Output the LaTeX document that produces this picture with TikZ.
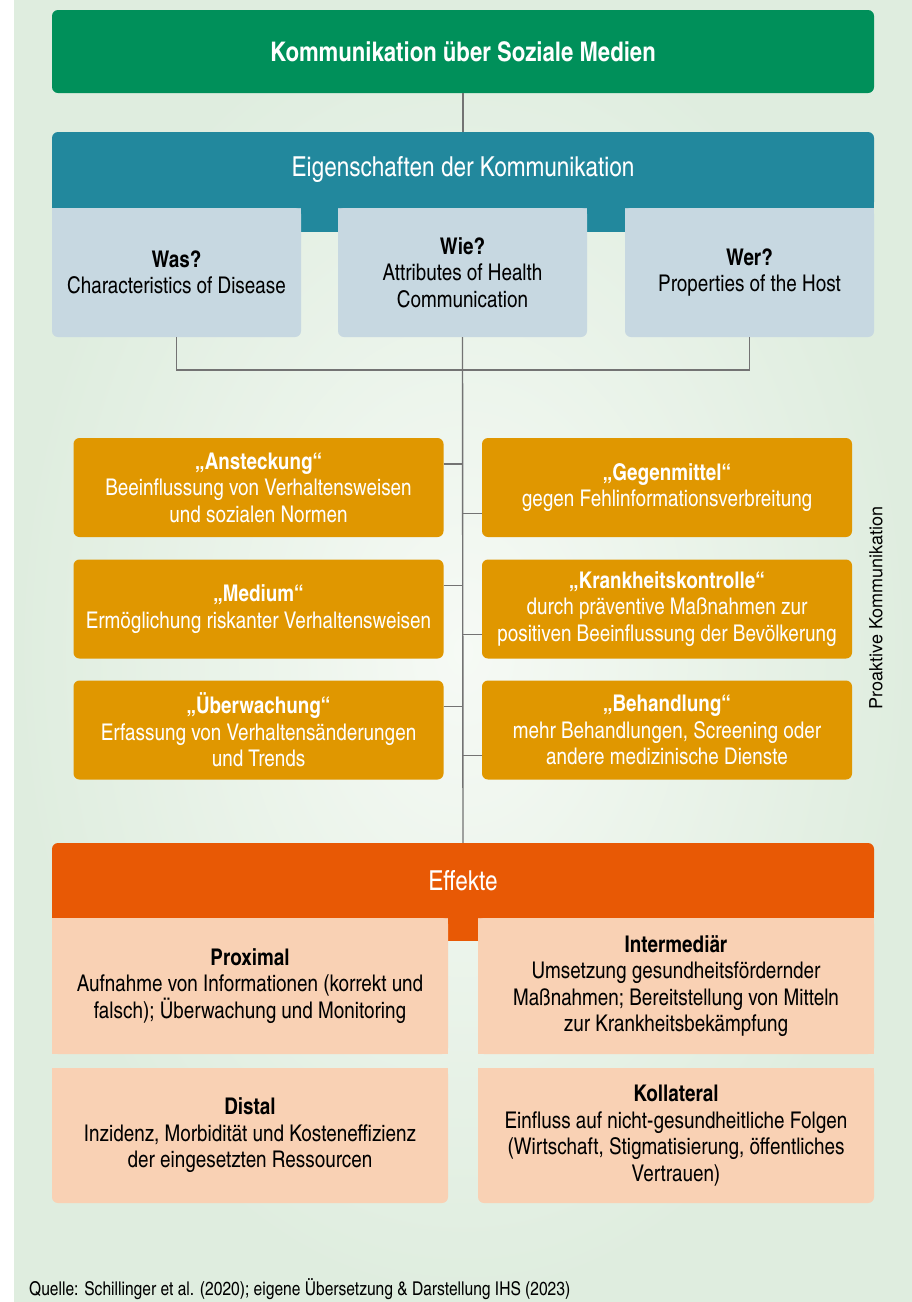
\documentclass[tikz,border=0pt]{standalone}
\usepackage{fontspec}
\setmainfont{TeX Gyre Heros Cn}
\newfontfamily\rotfont{TeX Gyre Heros}
\usetikzlibrary{backgrounds}

\definecolor{titlegreen}{HTML}{00905A}
\definecolor{headteal}{HTML}{22889D}
\definecolor{tabblue}{HTML}{C7D8E1}
\definecolor{boxorange}{HTML}{E09700}
\definecolor{effred}{HTML}{E85905}
\definecolor{effpeach}{HTML}{F9D1B4}
\definecolor{bgouter}{HTML}{DFEDDF}
\definecolor{bginner}{HTML}{F6FAF5}
\definecolor{linegray}{HTML}{737373}

\tikzset{
    box/.style={inner sep=0pt, align=center, rounded corners=6pt,
        font=\fontsize{23}{26.5}\selectfont},
    headbox/.style={box, text=white, minimum width=822pt},
    tabbox/.style={box, fill=tabblue, minimum width=249pt, minimum height=129pt},
    propbox/.style={box, fill=boxorange, text=white, minimum width=370pt, minimum height=99pt},
    effbox/.style={box, fill=effpeach, minimum width=396pt},
    conn/.style={draw=linegray, line width=1.4pt}
}

\begin{document}
\begin{tikzpicture}[x=1pt,y=-1pt]
    \useasboundingbox (0,0) rectangle (912,1302);

    \node[headbox, fill=titlegreen, minimum height=83pt,
        font=\bfseries\fontsize{27}{30}\selectfont] (titel) at (463,51.5) {Kommunikation über Soziale Medien};
    \node[headbox, fill=headteal, minimum height=76pt,
        font=\fontsize{27.5}{31}\selectfont] (eigen) at (463,170) {Eigenschaften der Kommunikation};

    \node[tabbox] (was) at (176.5,272.5) {\textbf{Was?}\\Characteristics of Disease};
    \node[tabbox] (wie) at (462.5,272.5) {\textbf{Wie?}\\Attributes of Health\\Communication};
    \node[tabbox] (wer) at (749.5,272.5) {\textbf{Wer?}\\Properties of the Host};

    \node[propbox] (anst) at (258.5,487.5) {\textbf{„Ansteckung“}\\Beeinflussung von Verhaltensweisen\\und sozialen Normen};
    \node[propbox] (medium) at (258.5,609) {\textbf{„Medium“}\\Ermöglichung riskanter Verhaltensweisen};
    \node[propbox] (ueberw) at (258.5,730) {\textbf{„Überwachung“}\\Erfassung von Verhaltensänderungen\\und Trends};
    \node[propbox] (gegen) at (667,487.5) {\textbf{„Gegenmittel“}\\gegen Fehlinformationsverbreitung};
    \node[propbox] (kontr) at (667,609) {\textbf{„Krankheitskontrolle“}\\durch präventive Maßnahmen zur\\positiven Beeinflussung der Bevölkerung};
    \node[propbox] (behand) at (667,730) {\textbf{„Behandlung“}\\mehr Behandlungen, Screening oder\\andere medizinische Dienste};

    \node[rotate=90, font=\rotfont\fontsize{18}{21}\selectfont] (proaktiv) at (876,608) {Proaktive Kommunikation};

    \node[headbox, fill=effred, minimum height=75pt,
        font=\fontsize{27.5}{31}\selectfont] (effekte) at (463,880.5) {Effekte};

    \node[effbox, minimum height=136pt] (prox) at (250,986) {\textbf{Proximal}\\Aufnahme von Informationen (korrekt und\\falsch); Überwachung und Monitoring};
    \node[effbox, minimum height=136pt] (inter) at (676,986) {\textbf{Intermediär}\\Umsetzung gesundheitsfördernder\\Maßnahmen; Bereitstellung von Mitteln\\zur Krankheitsbekämpfung};
    \node[effbox, minimum height=135pt] (dist) at (250,1135.5) {\textbf{Distal}\\Inzidenz, Morbidität und Kosteneffizienz\\der eingesetzten Ressourcen};
    \node[effbox, minimum height=135pt] (koll) at (676,1135.5) {\textbf{Kollateral}\\Einfluss auf nicht-gesundheitliche Folgen\\(Wirtschaft, Stigmatisierung, öffentliches\\Vertrauen)};

    \node[anchor=west, inner sep=0pt, font=\fontsize{19}{22}\selectfont] (quelle) at (29,1289) {Quelle: Schillinger et al. (2020); eigene Übersetzung \& Darstellung IHS (2023)};

    % connectors
    \coordinate (knoten) at (462.5,370);
    \draw[conn] (titel) -- (eigen);
    \draw[conn] (was.south) |- (knoten) -| (wer.south);
    \draw[conn] (wie.south) -- (effekte.north);
    \foreach \n in {anst,medium,ueberw}
        \draw[conn] ([yshift=-26pt]\n.north east) -- ([yshift=-26pt]\n.north east -| wie.south);
    \foreach \n in {gegen,kontr,behand}
        \draw[conn] ([yshift=24pt]\n.south west) -- ([yshift=24pt]\n.south west -| wie.south);

    \begin{scope}[on background layer]
        \shade[inner color=bginner, outer color=bgouter] (14,0) rectangle (912,1302);
        \fill[headteal] ([yshift=8pt]eigen.south west) rectangle ([yshift=-24pt]eigen.south east);
        \foreach \n in {was,wie,wer}
            \fill[tabblue] (\n.north west) rectangle ([yshift=-10pt]\n.north east);
        \fill[effred] ([yshift=8pt]effekte.south west) rectangle ([yshift=-23pt]effekte.south east);
        \foreach \n in {prox,inter,dist,koll}
            \fill[effpeach] (\n.north west) rectangle ([yshift=-10pt]\n.north east);
        \foreach \n in {prox,inter}
            \fill[effpeach] (\n.south west) rectangle ([yshift=10pt]\n.south east);
    \end{scope}
\end{tikzpicture}
\end{document}
